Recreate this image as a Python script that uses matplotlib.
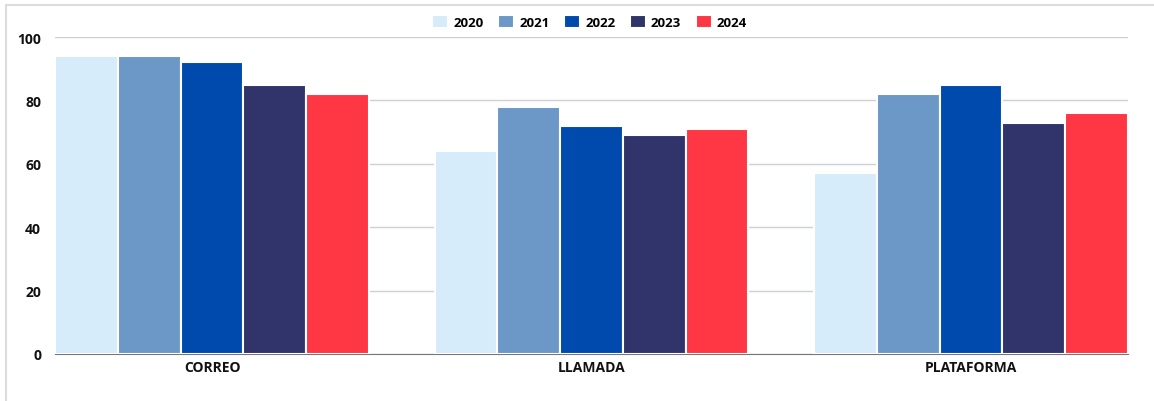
import matplotlib.pyplot as plt
import numpy as np
from matplotlib.patches import Rectangle

plt.rcParams['font.family'] = ['Open Sans', 'DejaVu Sans']
plt.rcParams['font.weight'] = 'bold'

# Data
categories = ['CORREO', 'LLAMADA', 'PLATAFORMA']
years = ['2020', '2021', '2022', '2023', '2024']
values = {
    '2020': [94, 64, 57],
    '2021': [94, 78, 82],
    '2022': [92, 72, 85],
    '2023': [85, 69, 73],
    '2024': [82, 71, 76],
}
colors = ['#d6ecfb', '#6b98c7', '#004aad', '#31346b', '#ff3643']

fig = plt.figure(figsize=(11.54, 4.02), dpi=100)
ax = fig.add_axes([55/1154, 1 - 355/402, (1128 - 55)/1154, (355 - 38)/402])

x = np.arange(len(categories))
step = 0.1655
for i, year in enumerate(years):
    ax.bar(x + (i - 2) * step, values[year], width=step, color=colors[i],
           edgecolor='white', linewidth=1.5, label=year, zorder=3)

ax.set_xlim(-0.414, 2.414)
ax.set_ylim(0, 100)
ax.set_yticks([0, 20, 40, 60, 80, 100])
ax.set_xticks(x)
ax.set_xticklabels(categories)
ax.tick_params(axis='both', length=0, labelsize=10, colors='#111111')
ax.tick_params(axis='y', pad=10)
ax.tick_params(axis='x', pad=4)
ax.grid(axis='y', color='#d0d0d0', linewidth=1, zorder=0)
for s in ['top', 'right', 'left']:
    ax.spines[s].set_visible(False)
ax.spines['bottom'].set_color('#777777')
ax.spines['bottom'].set_zorder(2)

fig.legend(loc='upper center', bbox_to_anchor=(0.511, 0.99), ncol=5, frameon=False,
           handlelength=1.2, handleheight=1.2, handletextpad=0.4, columnspacing=1.1,
           prop={'family': 'Open Sans', 'weight': 'bold', 'size': 9.5})

# light frame around the chart
fig.patches.append(Rectangle((6/1154, -0.05), 1.1, 1 - 6/402 + 0.05, transform=fig.transFigure,
                             fill=False, edgecolor='#dcdcdc', linewidth=1.5))

fig.savefig('out.png', dpi=100)
